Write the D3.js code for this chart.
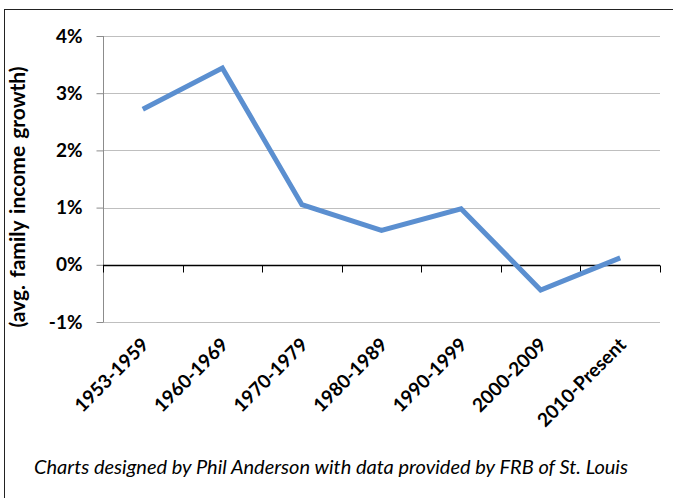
<!DOCTYPE html>
<html><head><meta charset="utf-8">
<script src="https://cdn.jsdelivr.net/npm/d3@7"></script>
<style>body{margin:0;background:#fff}svg{display:block}</style>
</head><body><svg id="c" width="673" height="498"></svg>
<script>
const categories = ["1953-1959","1960-1969","1970-1979","1980-1989","1990-1999","2000-2009","2010-Present"];
const growth = [0.0272, 0.0344, 0.0105, 0.0060, 0.0098, -0.0044, 0.0012];
const yTicks = [-0.01, 0, 0.01, 0.02, 0.03, 0.04];
const yTitle = "(avg. family income growth)";
const caption = "Charts designed by Phil Anderson with data provided by FRB of St. Louis";

const svg = d3.select("#c");
const font = "Lato, 'Open Sans', sans-serif";
svg.append("rect").attr("x",4.5).attr("y",9.5).attr("width",700).attr("height",600)
  .attr("fill","#fff").attr("stroke","#222").attr("stroke-width",1);

const x = d3.scaleBand().domain(categories).range([103,660]);
const y = d3.scaleLinear().domain([-0.01,0.04]).range([322,36]);
const pct = d => Math.round(d*100) + "%";

// gridlines
svg.append("g").selectAll("line").data(yTicks.filter(d=>d!==0)).join("line")
  .attr("x1",103).attr("x2",660).attr("y1",d=>Math.round(y(d))+0.5).attr("y2",d=>Math.round(y(d))+0.5)
  .attr("stroke","#bfbfbf").attr("stroke-width",1);

// y axis
const ya = svg.append("g").attr("transform","translate(103.5,0)")
  .call(d3.axisLeft(y).tickValues(yTicks).tickFormat(pct).tickSize(7).tickPadding(14));
ya.select(".domain").attr("stroke","#8c8c8c").attr("d","M0,36V322");
ya.selectAll(".tick line").attr("stroke","#8c8c8c");
ya.selectAll(".tick text").attr("font-family",font).attr("font-weight","bold").attr("font-size",19).attr("fill","#000");

// x axis at 0
const xa = svg.append("g").attr("transform",`translate(0,${Math.round(y(0))+0.5})`)
  .call(d3.axisBottom(x).tickSize(0).tickFormat(""));
xa.select(".domain").attr("stroke","#000").attr("stroke-width",1.3).attr("d","M103,0H660");
xa.selectAll(".tick").remove();
const bounds = [x(categories[0])].concat(categories.map(c=>x(c)+x.bandwidth()));
xa.selectAll("line.t").data(bounds).join("line").attr("class","t")
  .attr("x1",d=>Math.round(d)+0.5).attr("x2",d=>Math.round(d)+0.5).attr("y1",0).attr("y2",7)
  .attr("stroke","#000");

// x labels
svg.append("g").selectAll("text").data(categories).join("text")
  .attr("transform",d=>`translate(${x(d)+x.bandwidth()/2+7},${346}) rotate(-45)`)
  .attr("text-anchor","end").attr("font-family",font).attr("font-weight","bold").attr("font-size",19)
  .text(d=>d);

// line
const line = d3.line().x((d,i)=>x(categories[i])+x.bandwidth()/2).y(d=>y(d));
svg.append("path").datum(growth).attr("d",line).attr("fill","none")
  .attr("stroke","#5b8fd0").attr("stroke-width",5).attr("stroke-linejoin","miter");

// y title
svg.append("text").attr("transform","translate(25,197) rotate(-90)").attr("text-anchor","middle")
  .attr("font-family",font).attr("font-weight","bold").attr("font-size",21).attr("word-spacing",2).text(yTitle);

// caption
svg.append("text").attr("x",331).attr("y",474).attr("text-anchor","middle")
  .attr("font-family",font).attr("font-style","italic").attr("font-size",20).text(caption);
</script></body></html>
